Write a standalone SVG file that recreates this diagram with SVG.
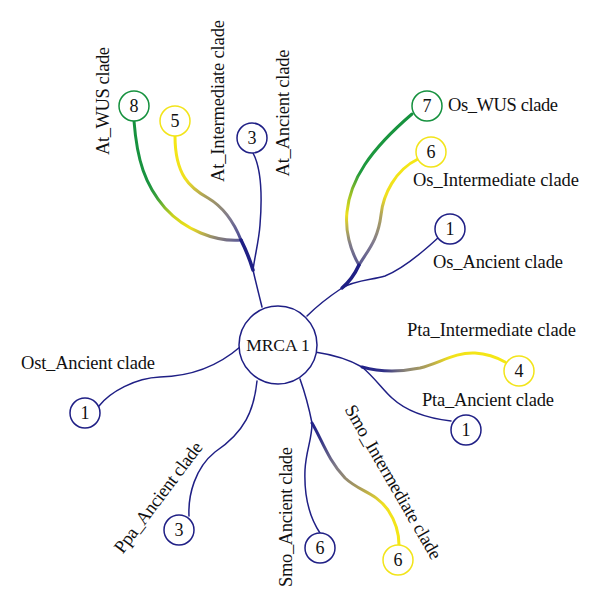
<svg xmlns="http://www.w3.org/2000/svg" width="600" height="609" viewBox="0 0 600 609">
<style>
.bg{fill:#ffffff}
.nv{fill:#ffffff;stroke:#1f1f85;stroke-width:1.5}
.gr{fill:#ffffff;stroke:#15913e;stroke-width:1.5}
.yl{fill:#ffffff;stroke:#f2e41a;stroke-width:1.5}
.num{font-family:"Liberation Serif",serif;font-size:18px;fill:#111111;text-anchor:middle}
.lbl{font-family:"Liberation Serif",serif;font-size:18.5px;fill:#111111}
.c{fill:none;stroke-linecap:round}
.thin{stroke:#1f1f85;stroke-width:1.5}
.thick{stroke:#1f1f85;stroke-width:3.5}
.col{stroke-width:3}
</style>
<defs>
<linearGradient id="gAtWUS" gradientUnits="userSpaceOnUse" x1="241" y1="240" x2="134" y2="121">
<stop offset="0" stop-color="#5c5a98"/><stop offset="0.12" stop-color="#8e8672"/><stop offset="0.27" stop-color="#f0e21a"/><stop offset="0.4" stop-color="#c8d21e"/><stop offset="0.55" stop-color="#3aa03a"/><stop offset="0.65" stop-color="#1a9340"/><stop offset="1" stop-color="#15913e"/>
</linearGradient>
<linearGradient id="gAtInt" gradientUnits="userSpaceOnUse" x1="241" y1="240" x2="175" y2="136">
<stop offset="0" stop-color="#4a4a95"/><stop offset="0.2" stop-color="#7d7890"/><stop offset="0.45" stop-color="#a99e5a"/><stop offset="0.65" stop-color="#f0e020"/><stop offset="1" stop-color="#f5e814"/>
</linearGradient>
<linearGradient id="gOsWUS" gradientUnits="userSpaceOnUse" x1="359" y1="265" x2="412" y2="114">
<stop offset="0" stop-color="#5a5890"/><stop offset="0.1" stop-color="#7e7a8a"/><stop offset="0.27" stop-color="#eee01c"/><stop offset="0.42" stop-color="#8cbc28"/><stop offset="0.55" stop-color="#1f9a3e"/><stop offset="1" stop-color="#15913e"/>
</linearGradient>
<linearGradient id="gOsInt" gradientUnits="userSpaceOnUse" x1="359" y1="265" x2="418" y2="159">
<stop offset="0" stop-color="#5a5890"/><stop offset="0.2" stop-color="#7e7890"/><stop offset="0.45" stop-color="#b0a45a"/><stop offset="0.6" stop-color="#f0e020"/><stop offset="1" stop-color="#f5e814"/>
</linearGradient>
<linearGradient id="gPtaInt" gradientUnits="userSpaceOnUse" x1="362" y1="367" x2="505" y2="362">
<stop offset="0" stop-color="#22228a"/><stop offset="0.15" stop-color="#303088"/><stop offset="0.3" stop-color="#8a8478"/><stop offset="0.48" stop-color="#b5a650"/><stop offset="0.62" stop-color="#f2e21a"/><stop offset="1" stop-color="#f5e814"/>
</linearGradient>
<linearGradient id="gSmoInt" gradientUnits="userSpaceOnUse" x1="312" y1="423" x2="399" y2="545">
<stop offset="0" stop-color="#22228a"/><stop offset="0.12" stop-color="#333388"/><stop offset="0.32" stop-color="#7d7888"/><stop offset="0.53" stop-color="#a89a5a"/><stop offset="0.72" stop-color="#f0e020"/><stop offset="1" stop-color="#f5e814"/>
</linearGradient>
</defs>
<rect class="bg" x="0" y="0" width="600" height="609"/>
<g id="connectors">
<path class="c thin" d="M262,307 C259,295 256,283 253,270"/>
<path class="c thin" d="M253,270 C255,255 259,240 260,225 C262,200 262,170 253,153"/>
<path class="c col" stroke="url(#gAtWUS)" d="M241,240 C215,242 185,230 165,208 C145,185 137,160 134,121"/>
<path class="c col" stroke="url(#gAtInt)" d="M241,240 C235,225 225,208 208,198 C190,188 175,175 175,136"/>
<path class="c thick" d="M253,270 C250,260 246,250 241,240"/>
<path class="c thin" d="M307,316 C318,305 330,296 342,288"/>
<path class="c thin" d="M342,288 C355,280 372,280 385,276 C405,268 425,250 439,237"/>
<path class="c col" stroke="url(#gOsWUS)" d="M359,265 C350,250 345,230 347,212 C350,180 370,150 412,114"/>
<path class="c col" stroke="url(#gOsInt)" d="M359,265 C368,250 378,240 381,215 C383,195 395,170 418,159"/>
<path class="c thick" d="M342,288 C348,283 354,276 359,265"/>
<path class="c thin" d="M315,352 C335,355 350,360 362,367"/>
<path class="c col" stroke="url(#gPtaInt)" d="M362,367 C380,372 400,372 420,368 C440,363 455,352 475,353 C490,354 498,358 505,362"/>
<path class="c thin" d="M362,367 C375,378 383,390 392,398 C405,410 425,418 451,421"/>
<path class="c thin" d="M300,379 C305,393 309,408 312,423"/>
<path class="c thin" d="M312,423 C312,440 306,450 305,470 C304,495 308,515 320,533"/>
<path class="c col" stroke="url(#gSmoInt)" d="M312,423 C322,440 328,460 345,478 C360,492 375,492 388,510 C396,522 399,535 399,545"/>
<path class="c thin" d="M240,347 C225,360 200,376 160,377 C135,378 110,392 99,406"/>
<path class="c thin" d="M257,381 C254,410 245,432 215,452 C195,468 188,495 189,516"/>
</g>
<g id="mrca">
<circle class="nv" cx="278" cy="345" r="39"/>
<text class="num" x="278" y="351" style="font-size:17.5px">MRCA 1</text>
</g>
<g id="at-wus">
<circle class="gr" cx="134" cy="106" r="15"/>
<text class="num" x="134" y="112">8</text>
<text class="lbl" transform="translate(109,101) rotate(-90)" text-anchor="middle" textLength="108">At_WUS clade</text>
</g>
<g id="at-intermediate">
<circle class="yl" cx="175" cy="121" r="15"/>
<text class="num" x="175" y="127">5</text>
<text class="lbl" transform="translate(224,101) rotate(-90)" text-anchor="middle" textLength="162">At_Intermediate clade</text>
</g>
<g id="at-ancient">
<circle class="nv" cx="252" cy="138" r="15"/>
<text class="num" x="252" y="144">3</text>
<text class="lbl" transform="translate(289,113) rotate(-90)" text-anchor="middle" textLength="127">At_Ancient clade</text>
</g>
<g id="os-wus">
<circle class="gr" cx="427" cy="106" r="15"/>
<text class="num" x="427" y="112">7</text>
<text class="lbl" x="448" y="111" textLength="110">Os_WUS clade</text>
</g>
<g id="os-intermediate">
<circle class="yl" cx="431" cy="152" r="15"/>
<text class="num" x="431" y="158">6</text>
<text class="lbl" x="413" y="186" textLength="166">Os_Intermediate clade</text>
</g>
<g id="os-ancient">
<circle class="nv" cx="450" cy="229" r="15"/>
<text class="num" x="450" y="235">1</text>
<text class="lbl" x="433" y="268" textLength="130">Os_Ancient clade</text>
</g>
<g id="pta-intermediate">
<circle class="yl" cx="519" cy="371" r="15"/>
<text class="num" x="519" y="377">4</text>
<text class="lbl" x="407" y="336" textLength="169">Pta_Intermediate clade</text>
</g>
<g id="pta-ancient">
<circle class="nv" cx="466" cy="430" r="15"/>
<text class="num" x="466" y="436">1</text>
<text class="lbl" x="422" y="406" textLength="132">Pta_Ancient clade</text>
</g>
<g id="smo-intermediate">
<circle class="yl" cx="398" cy="560" r="15"/>
<text class="num" x="398" y="566">6</text>
<text class="lbl" transform="translate(388,485) rotate(60)" text-anchor="middle" textLength="175">Smo_Intermediate clade</text>
</g>
<g id="smo-ancient">
<circle class="nv" cx="320" cy="548" r="15"/>
<text class="num" x="320" y="554">6</text>
<text class="lbl" transform="translate(292,517) rotate(-90)" text-anchor="middle" textLength="140">Smo_Ancient clade</text>
</g>
<g id="ppa-ancient">
<circle class="nv" cx="179" cy="530" r="15"/>
<text class="num" x="179" y="536">3</text>
<text class="lbl" transform="translate(163,501) rotate(-53)" text-anchor="middle" textLength="134">Ppa_Ancient clade</text>
</g>
<g id="ost-ancient">
<circle class="nv" cx="85" cy="413" r="15"/>
<text class="num" x="85" y="419">1</text>
<text class="lbl" x="21" y="369" textLength="134">Ost_Ancient clade</text>
</g>
</svg>
